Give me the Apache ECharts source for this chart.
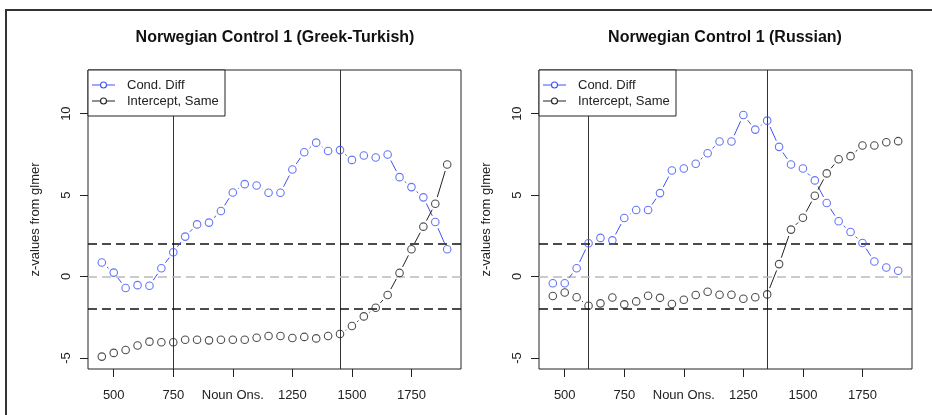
<!DOCTYPE html>
<html>
<head>
<meta charset="utf-8">
<script src="https://cdn.jsdelivr.net/npm/echarts@6/dist/echarts.min.js"></script>
<style>html,body{margin:0;padding:0;background:#fff}#c{width:932px;height:415px}</style>
</head>
<body>
<div id="c"></div>
<script>
// ---- data ----
const nounOnset = [450,500,550,600,650,700,750,800,850,900,950,1000,1050,1100,1150,1200,1250,1300,1350,1400,1450,1500,1550,1600,1650,1700,1750,1800,1850,1900];
const gtCondDiff = [0.86,0.24,-0.71,-0.53,-0.57,0.51,1.49,2.45,3.2,3.31,4.02,5.16,5.67,5.59,5.14,5.14,6.57,7.63,8.22,7.71,7.76,7.16,7.43,7.31,7.49,6.1,5.49,4.86,3.35,1.67];
const gtIntercept = [-4.92,-4.69,-4.51,-4.24,-4.0,-4.04,-4.04,-3.88,-3.88,-3.92,-3.88,-3.88,-3.88,-3.76,-3.65,-3.65,-3.78,-3.71,-3.8,-3.65,-3.53,-3.04,-2.45,-1.92,-1.14,0.22,1.67,3.06,4.47,6.88];
const ruCondDiff = [-0.41,-0.41,0.51,2.04,2.37,2.22,3.59,4.08,4.08,5.12,6.51,6.63,6.92,7.57,8.29,8.29,9.92,9.02,9.57,7.96,6.88,6.63,5.9,4.51,3.39,2.73,2.06,0.92,0.55,0.35];
const ruIntercept = [-1.2,-0.98,-1.27,-1.8,-1.65,-1.29,-1.71,-1.53,-1.18,-1.31,-1.69,-1.43,-1.14,-0.94,-1.12,-1.12,-1.37,-1.27,-1.1,0.76,2.88,3.61,4.96,6.33,7.2,7.39,8.04,8.04,8.24,8.31];
const gtWindow = [750,1450];
const ruWindow = [600,1350];
const thresholds = [2,-2];
const xTicks = [500,750,1000,1250,1500,1750];
const yTicks = [-5,0,5,10];
const titles = ['Norwegian Control 1 (Greek-Turkish)','Norwegian Control 1 (Russian)'];
const seriesNames = ['Cond. Diff','Intercept, Same'];

// ---- styling ----
const FONT = '"Liberation Sans", Arial, Helvetica, sans-serif';
const BLUE = '#4052f2';
const BLACK = '#222222';
const GAP = 6.8;

const chart = echarts.init(document.getElementById('c'), null, {renderer:'canvas'});

function pairs(xs, ys){
  const out = [];
  for (let i=0;i<xs.length-1;i++) out.push([xs[i],ys[i],xs[i+1],ys[i+1]]);
  return out;
}
function segRender(color){
  return function(params, api){
    const p0 = api.coord([api.value(0), api.value(1)]);
    const p1 = api.coord([api.value(2), api.value(3)]);
    const dx = p1[0]-p0[0], dy = p1[1]-p0[1];
    const d = Math.sqrt(dx*dx+dy*dy);
    if (d <= 2*GAP + 0.3) return {type:'group', children:[]};
    const ux = dx/d, uy = dy/d;
    return {type:'line', shape:{x1:p0[0]+ux*GAP, y1:p0[1]+uy*GAP, x2:p1[0]-ux*GAP, y2:p1[1]-uy*GAP},
            style:{stroke:color, lineWidth:1}};
  };
}
function zip(xs, ys){ return xs.map((x,i)=>[x, ys[i]]); }

const grids = [
  {left:88, top:70, width:373, height:299},
  {left:539, top:70, width:373, height:299}
].map(g => Object.assign(g, {show:true, borderColor:'#222', borderWidth:1, backgroundColor:'transparent'}));

function xAxis(i){
  return {type:'value', gridIndex:i, min:392, max:1958, position:'bottom',
    splitLine:{show:false}, axisLine:{show:false, onZero:false},
    axisTick:{show:true, inside:false, length:8, customValues:xTicks, lineStyle:{color:'#222'}},
    axisLabel:{customValues:xTicks, margin:20, fontSize:13, color:'#222', fontFamily:FONT,
      formatter: v => v===1000 ? 'Noun Ons.' : String(v)}};
}
function yAxis(i){
  return {type:'value', gridIndex:i, min:-5.68, max:12.68, position:'left',
    name:'z-values from glmer', nameLocation:'middle', nameGap:46,
    nameTextStyle:{fontSize:13, color:'#222', fontFamily:FONT},
    splitLine:{show:false}, axisLine:{show:false, onZero:false},
    axisTick:{show:true, inside:false, length:8, customValues:yTicks, lineStyle:{color:'#222'}},
    axisLabel:{customValues:yTicks, rotate:90, margin:15, fontSize:13, color:'#222', fontFamily:FONT}};
}

function panelSeries(i, cond, inter, win){
  const ml = [];
  win.forEach(x => ml.push({xAxis:x, lineStyle:{color:'#333', width:1, type:'solid'}}));
  thresholds.forEach(y => ml.push({yAxis:y, lineStyle:{color:'#111', width:1.5, type:[9,5]}}));
  ml.push({yAxis:0, lineStyle:{color:'#bbbbbb', width:1.5, type:[9,5]}});
  return [
    {type:'custom', xAxisIndex:i, yAxisIndex:i, data:pairs(nounOnset, cond), renderItem:segRender(BLUE),
      encode:{x:[0,2], y:[1,3]}, silent:true, z:3},
    {type:'custom', xAxisIndex:i, yAxisIndex:i, data:pairs(nounOnset, inter), renderItem:segRender(BLACK),
      encode:{x:[0,2], y:[1,3]}, silent:true, z:3},
    {type:'scatter', name:seriesNames[0], xAxisIndex:i, yAxisIndex:i, data:zip(nounOnset, cond),
      symbol:'circle', symbolSize:7.5, itemStyle:{color:'transparent', borderColor:BLUE, borderWidth:1.1}, z:4,
      markLine:{silent:true, symbol:['none','none'], label:{show:false}, data:ml, animation:false, z:2}},
    {type:'scatter', name:seriesNames[1], xAxisIndex:i, yAxisIndex:i, data:zip(nounOnset, inter),
      symbol:'circle', symbolSize:7.5, itemStyle:{color:'transparent', borderColor:BLACK, borderWidth:1.1}, z:4}
  ];
}

function legendGraphic(left){
  const top = 70;
  const els = [
    {type:'rect', shape:{x:left, y:top, width:137, height:46}, style:{fill:'#fff', stroke:'#222', lineWidth:1}, z:100}
  ];
  const rows = [[seriesNames[0], BLUE, 85], [seriesNames[1], BLACK, 101]];
  rows.forEach(([name, col, y]) => {
    els.push({type:'line', shape:{x1:left+4, y1:y, x2:left+27, y2:y}, style:{stroke:col, lineWidth:1}, z:101});
    els.push({type:'circle', shape:{cx:left+15.5, cy:y, r:3}, style:{fill:'#fff', stroke:col, lineWidth:1.1}, z:102});
    els.push({type:'text', x:left+39, y:y, style:{text:name, fill:'#222', font:'13px '+FONT, textVerticalAlign:'middle'}, z:102});
  });
  return els;
}

const graphics = [
  {type:'rect', shape:{x:6, y:10, width:1000, height:1000}, style:{fill:'none', stroke:'#333', lineWidth:2}, z:50},
  {type:'text', x:275, y:38, style:{text:titles[0], fill:'#111', font:'bold 16px '+FONT, textAlign:'center', textVerticalAlign:'middle'}, z:100},
  {type:'text', x:725, y:38, style:{text:titles[1], fill:'#111', font:'bold 16px '+FONT, textAlign:'center', textVerticalAlign:'middle'}, z:100}
].concat(legendGraphic(88), legendGraphic(539));

chart.setOption({
  animation:false,
  backgroundColor:'#fff',
  grid:grids,
  xAxis:[xAxis(0), xAxis(1)],
  yAxis:[yAxis(0), yAxis(1)],
  series:[].concat(panelSeries(0, gtCondDiff, gtIntercept, gtWindow), panelSeries(1, ruCondDiff, ruIntercept, ruWindow)),
  graphic:graphics
});
</script>
</body>
</html>
